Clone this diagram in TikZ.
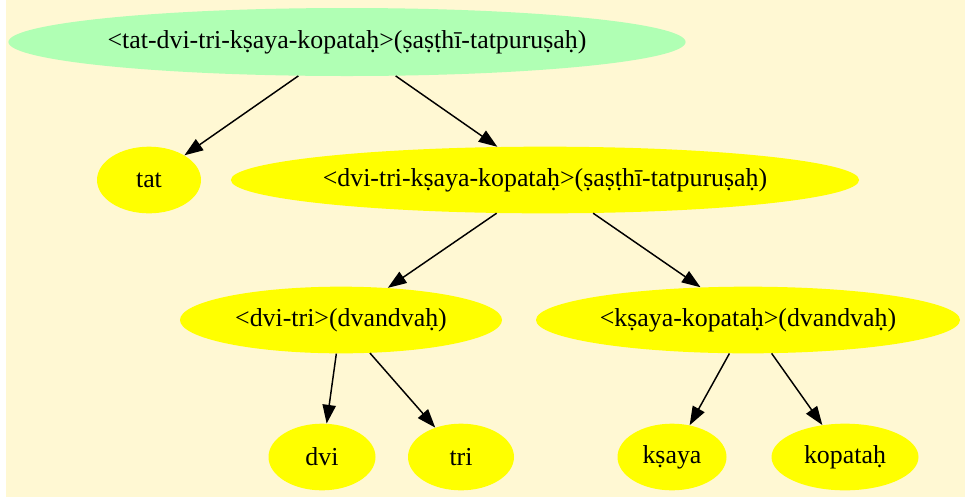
\documentclass[tikz,border=0pt]{standalone}
\usepackage{fontspec}
\setmainfont{Liberation Serif}
\usetikzlibrary{shapes.geometric,arrows.meta}
\definecolor{bgc}{HTML}{FFF8D3}
\definecolor{rootc}{HTML}{B0FFB4}
\definecolor{yel}{HTML}{FFFF00}
\tikzset{
  tnode/.style={ellipse, fill=yel, draw=none, inner sep=0pt, minimum height=50pt, font=\fontsize{19.4}{22}\selectfont},
  rnode/.style={tnode, fill=rootc},
  edge/.style={draw=black, line width=1.1pt, -{Triangle[length=14pt,width=10pt]}}
}
\begin{document}
\begin{tikzpicture}[x=0.75pt,y=-0.75pt]
\useasboundingbox (0,0) rectangle (965,501);
\fill[white] (0,0) rectangle (965,501);
\fill[bgc] (6,0) rectangle (965,497);
\node[rnode, minimum width=505.5pt, minimum height=51pt] (root) at (347,42) {<tat-dvi-tri-kṣaya-kopataḥ>(ṣaṣṭhī-tatpuruṣaḥ)};
\node[tnode, minimum width=78pt] (tat) at (149,180) {tat};
\node[tnode, minimum width=469.5pt] (mid) at (545,180) {<dvi-tri-kṣaya-kopataḥ>(ṣaṣṭhī-tatpuruṣaḥ)};
\node[tnode, minimum width=241.5pt] (dt) at (341,320) {<dvi-tri>(dvandvaḥ)};
\node[tnode, minimum width=318pt] (kk) at (748,320) {<kṣaya-kopataḥ>(dvandvaḥ)};
\node[tnode, minimum width=80.25pt] (dvi) at (322,457) {dvi};
\node[tnode, minimum width=79.5pt] (tri) at (461,457) {tri};
\node[tnode, minimum width=81.75pt] (ksaya) at (672,457) {kṣaya};
\node[tnode, minimum width=110.25pt] (kop) at (845,457) {kopataḥ};
\draw[edge] (root) -- (tat);
\draw[edge] (root) -- (mid);
\draw[edge] (mid) -- (dt);
\draw[edge] (mid) -- (kk);
\draw[edge] (dt) -- (dvi);
\draw[edge] (dt) -- (tri);
\draw[edge] (kk) -- (ksaya);
\draw[edge] (kk) -- (kop);
\end{tikzpicture}
\end{document}
